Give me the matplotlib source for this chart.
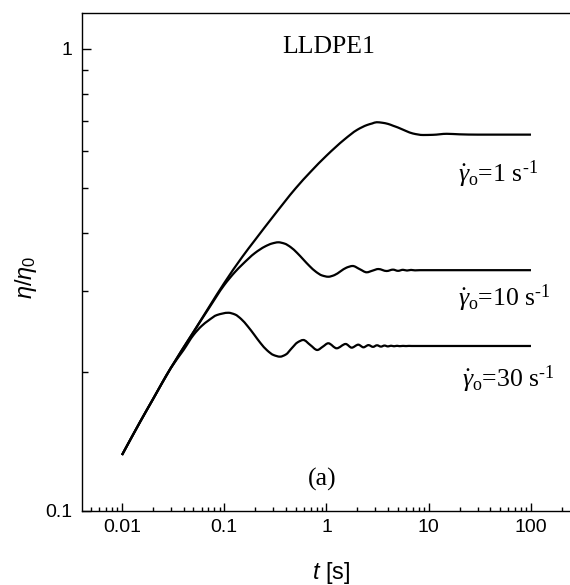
import matplotlib
matplotlib.use("Agg")
import numpy as np
import matplotlib.pyplot as plt
from matplotlib.path import Path
from matplotlib.patches import PathPatch
from matplotlib.ticker import FixedLocator, FixedFormatter, NullFormatter, LogLocator

# ---- data ----
t1 = [0.01, 0.015, 0.02, 0.03, 0.05, 0.07, 0.1, 0.15, 0.2, 0.3, 0.5, 0.7, 1.0, 1.5,
      2.0, 2.5, 2.8, 3.1, 3.5, 4, 4.5, 5, 6, 7, 8.8, 11, 15, 20, 30, 100]
eta1 = [0.1322, 0.1558, 0.1743, 0.2039, 0.2440, 0.2750, 0.3115, 0.3548, 0.3860, 0.4337,
        0.4996, 0.5424, 0.5877, 0.6373, 0.6686, 0.6848, 0.6900, 0.6942, 0.6925, 0.6884,
        0.6819, 0.6762, 0.6645, 0.6563, 0.6514, 0.6520, 0.6553, 0.6536, 0.6526, 0.6526]

t10 = [0.01, 0.015, 0.02, 0.03, 0.05, 0.07, 0.1, 0.1274, 0.1502, 0.1998, 0.2503, 0.2931,
       0.3378, 0.3893, 0.4477, 0.5158, 0.5932, 0.6834, 0.7862, 0.9036, 1.041, 1.195, 1.371,
       1.573, 1.804, 2.112, 2.474, 2.818, 3.211, 3.88, 4.47, 5.006, 5.60, 6.13, 6.71, 7.34,
       8.2, 10.3, 100]
eta10 = [0.1322, 0.1558, 0.1743, 0.2039, 0.2440, 0.2737, 0.3084, 0.3291, 0.3416, 0.3618,
         0.3737, 0.3793, 0.3816, 0.3791, 0.3723, 0.3620, 0.3503, 0.3389, 0.3296, 0.3235,
         0.3214, 0.3240, 0.3302, 0.3364, 0.3391, 0.3338, 0.3286, 0.3313, 0.3340, 0.3307,
         0.3330, 0.3310, 0.3327, 0.3315, 0.3325, 0.3318, 0.3321, 0.3321, 0.3321]

t30 = [0.01, 0.015, 0.02, 0.03, 0.04, 0.05, 0.06, 0.07, 0.085, 0.1096, 0.1274, 0.1465,
       0.1696, 0.1963, 0.2267, 0.2619, 0.3031, 0.3510, 0.4000, 0.4568, 0.5205, 0.5932,
       0.6944, 0.8128, 0.9199, 1.041, 1.258, 1.541, 1.764, 2.046, 2.301, 2.575, 2.850,
       3.119, 3.412, 3.692, 3.995, 4.275, 4.573, 4.9, 5.2, 5.6, 6.0, 6.4, 6.8, 8.2, 100]
eta30 = [0.1322, 0.1558, 0.1743, 0.2039, 0.2231, 0.2404, 0.2514, 0.2584, 0.2656, 0.2686,
         0.2663, 0.2603, 0.2511, 0.2408, 0.2308, 0.2228, 0.2176, 0.2158, 0.2181, 0.2250,
         0.2317, 0.2345, 0.2287, 0.2231, 0.2268, 0.2307, 0.2250, 0.2299, 0.2257, 0.2291,
         0.2261, 0.2286, 0.2266, 0.2284, 0.2269, 0.2281, 0.2271, 0.2279, 0.2273, 0.2278,
         0.2274, 0.2277, 0.2275, 0.2277, 0.2276, 0.2276, 0.2276]

x_ticks = [0.01, 0.1, 1, 10, 100]
x_ticklabels = ["0.01", "0.1", "1", "10", "100"]
y_ticks = [0.1, 1]
y_ticklabels = ["0.1", "1"]
rate_labels = [r"$\dot{\gamma}_{\mathrm{o}}$=1 s$^{\text{-1}}$",
               r"$\dot{\gamma}_{\mathrm{o}}$=10 s$^{\text{-1}}$",
               r"$\dot{\gamma}_{\mathrm{o}}$=30 s$^{\text{-1}}$"]
title_text = "LLDPE1"
panel_text = "(a)"

# ---- style ----
plt.rcParams["font.family"] = ["Liberation Sans", "DejaVu Sans"]
plt.rcParams["mathtext.fontset"] = "custom"
plt.rcParams["mathtext.rm"] = "Liberation Serif"
plt.rcParams["mathtext.it"] = "Liberation Serif:italic"
plt.rcParams["mathtext.sf"] = "Liberation Sans"
plt.rcParams["mathtext.bf"] = "Liberation Sans:italic"


def smooth_curve_path(t, y):
    """Smooth (monotone cubic, like an Origin 'spline' connect) path through the
    read points, built in log-log space and handed to the axes' data transform."""
    X = np.log10(np.asarray(t, float))
    Y = np.log10(np.asarray(y, float))
    n = len(X)
    h = np.diff(X)
    d = np.diff(Y) / h
    m = np.zeros(n)
    m[0], m[-1] = d[0], d[-1]
    for i in range(1, n - 1):
        if d[i - 1] * d[i] > 0:
            w1 = 2 * h[i] + h[i - 1]
            w2 = h[i] + 2 * h[i - 1]
            m[i] = (w1 + w2) / (w1 / d[i - 1] + w2 / d[i])
    verts = [(X[0], Y[0])]
    codes = [Path.MOVETO]
    for i in range(n - 1):
        verts += [(X[i] + h[i] / 3, Y[i] + m[i] * h[i] / 3),
                  (X[i + 1] - h[i] / 3, Y[i + 1] - m[i + 1] * h[i] / 3),
                  (X[i + 1], Y[i + 1])]
        codes += [Path.CURVE4] * 3
    verts = 10 ** np.asarray(verts)
    return Path(verts, codes)


fig = plt.figure(figsize=(5.70, 5.85), dpi=100)
ax = fig.add_axes([0.1439, 0.1265, 0.8684, 0.8513])
ax.set_xscale("log")
ax.set_yscale("log")
ax.set_xlim(0.004064, 282)
ax.set_ylim(0.1, 1.1966)

for tt, ee in [(t1, eta1), (t10, eta10), (t30, eta30)]:
    ax.add_patch(PathPatch(smooth_curve_path(tt, ee), transform=ax.transData,
                           fill=False, edgecolor="black", lw=1.6,
                           joinstyle="round", capstyle="butt"))

ax.xaxis.set_major_locator(FixedLocator(x_ticks))
ax.xaxis.set_major_formatter(FixedFormatter(x_ticklabels))
ax.yaxis.set_major_locator(FixedLocator(y_ticks))
ax.yaxis.set_major_formatter(FixedFormatter(y_ticklabels))
ax.xaxis.set_minor_locator(LogLocator(base=10, subs=np.arange(2, 10), numticks=100))
ax.yaxis.set_minor_locator(LogLocator(base=10, subs=np.arange(2, 10), numticks=100))
ax.xaxis.set_minor_formatter(NullFormatter())
ax.yaxis.set_minor_formatter(NullFormatter())

ax.tick_params(axis="both", which="both", direction="in", top=False, right=False,
               width=1.0, labelsize=14, colors="black")
ax.tick_params(axis="x", which="major", length=6.0, pad=6)
ax.tick_params(axis="x", which="minor", length=3.0)
ax.tick_params(axis="y", which="major", length=6.5, pad=7)
ax.tick_params(axis="y", which="minor", length=4.1)
for s in ax.spines.values():
    s.set_linewidth(1.0)

ax.set_xlabel(r"$\mathbf{t}$ [s]", fontsize=17)
ax.set_ylabel(r"$\mathbf{\eta}\mathsf{/}\mathbf{\eta}_{\mathsf{0}}$", fontsize=17)
ax.xaxis.set_label_coords(0.503, -0.099)
ax.yaxis.set_label_coords(-0.087, 0.47)

serif = ["Liberation Serif", "DejaVu Serif"]
ax.text(0.404, 0.920, title_text, transform=ax.transAxes, fontsize=18.5,
        family=serif, ha="left", va="baseline")
label_pos = [(0.760, 0.661), (0.760, 0.4116), (0.768, 0.2496)]
for lab, (lx, ly) in zip(rate_labels, label_pos):
    ax.text(lx, ly, lab, transform=ax.transAxes, fontsize=18.5, family=serif,
            ha="left", va="baseline")
ax.text(0.457, 0.052, panel_text, transform=ax.transAxes, fontsize=18.5,
        family=serif, ha="left", va="baseline")

fig.savefig("out.png", dpi=100)
